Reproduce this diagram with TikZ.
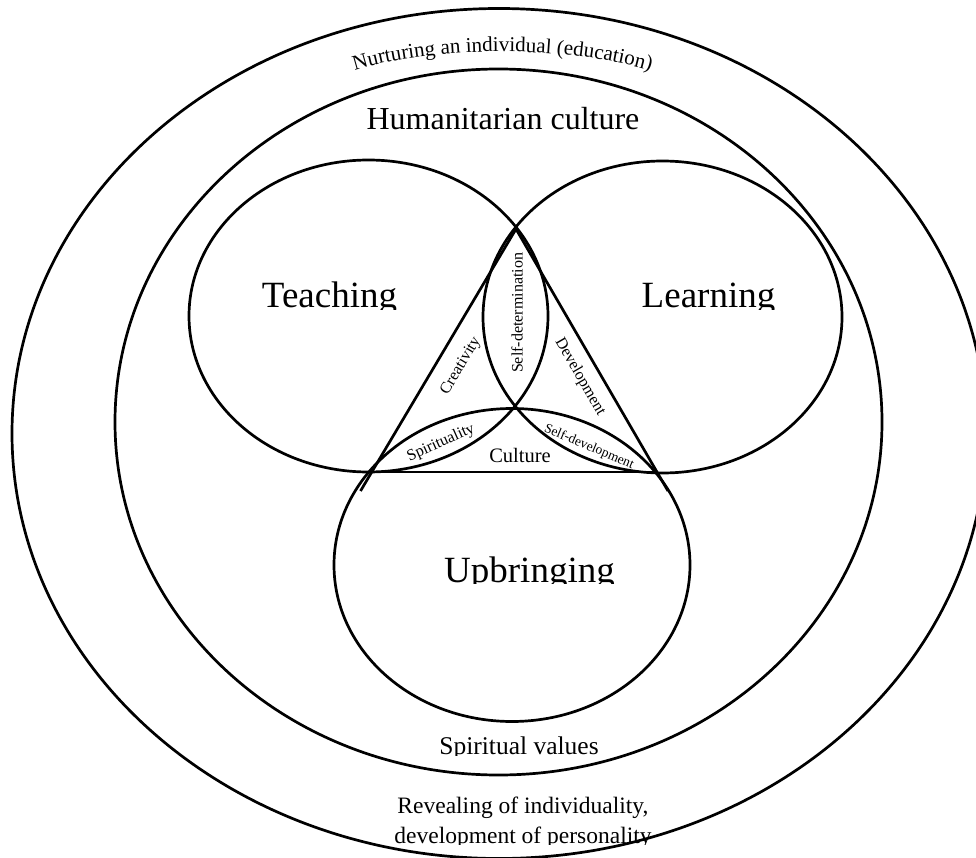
\documentclass[tikz,border=0pt]{standalone}
\usepackage{fontspec}
\setmainfont{Liberation Serif}
\usetikzlibrary{decorations.text}
\begin{document}
\begin{tikzpicture}[x=1pt,y=-1pt,
  ring/.style={draw, line width=2.7pt},
  biglab/.style={anchor=base, inner sep=0pt, font=\fontsize{37}{40}\selectfont},
  midlab/.style={anchor=base, inner sep=0pt},
  smalllab/.style={inner sep=0pt, font=\fontsize{16}{18}\selectfont}]
\useasboundingbox (0,0) rectangle (976,858);
% outer and inner rings
\begin{scope}
  \clip (0,0) rectangle (976,858);
  \draw[ring] (499,433.5) ellipse [x radius=487, y radius=425];
\end{scope}
\draw[ring] (498.5,422) ellipse [x radius=383.5, y radius=353];
% three overlapping ellipses
\draw[ring] (368.5,316) ellipse [x radius=179.5, y radius=156];
\draw[ring] (662.5,317) ellipse [x radius=179.5, y radius=156];
\draw[ring] (512,565) ellipse [x radius=178, y radius=156.5];
% triangle
\coordinate (T) at (516,229);
\coordinate (L) at (372,472);
\coordinate (R) at (657,472);
\coordinate (Le) at (360.5,491);
\coordinate (Re) at (668,491);
\draw[ring] (Le) -- (T) -- (Re);
\draw[ring] (L) -- (R);
% curved top label
\path[decorate, decoration={text along path, text align=center,
  text={|\fontsize{21}{24}\selectfont|Nurturing an individual (education)}}]
  (350,72) .. controls (430,45) and (570,45) .. (655,72);
\node[midlab, font=\fontsize{32}{36}\selectfont] (hum) at (503,130) {Humanitarian culture};
% big labels (clipped at the baseline)
\begin{scope}
  \clip (200,250) rectangle (460,309);
  \node[biglab] (teach) at (329.5,308) {Teaching};
\end{scope}
\begin{scope}
  \clip (600,250) rectangle (820,309);
  \node[biglab] (learn) at (708.5,308) {Learning};
\end{scope}
\begin{scope}
  \clip (400,520) rectangle (660,583);
  \node[biglab] (upb) at (529.5,582) {Upbringing};
\end{scope}
\begin{scope}
  \clip (400,720) rectangle (640,755);
  \node[midlab, font=\fontsize{25.5}{28}\selectfont] (spv) at (519,754) {Spiritual values};
\end{scope}
\node[midlab, font=\fontsize{23.5}{28}\selectfont] (rev) at (523,813) {Revealing of individuality,};
\begin{scope}
  \clip (360,815) rectangle (690,844);
  \node[midlab, font=\fontsize{23.5}{28}\selectfont] (dev) at (523,843) {development of personality};
\end{scope}
% small labels
\node[smalllab, rotate=90] (sdet) at (517,313) {Self-determination};
\node[smalllab, rotate=59] (crea) at (461,366) {Creativity};
\node[smalllab, rotate=-60] (devt) at (580,377) {Development};
\node[smalllab, rotate=24] (spir) at (441,443) {Spirituality};
\node[inner sep=0pt, font=\fontsize{13.5}{16}\selectfont, rotate=-23] (sdev) at (589,447) {Self-development};
\node[inner sep=0pt, font=\fontsize{20.5}{24}\selectfont] (cult) at (520,455) {Culture};
\end{tikzpicture}
\end{document}
